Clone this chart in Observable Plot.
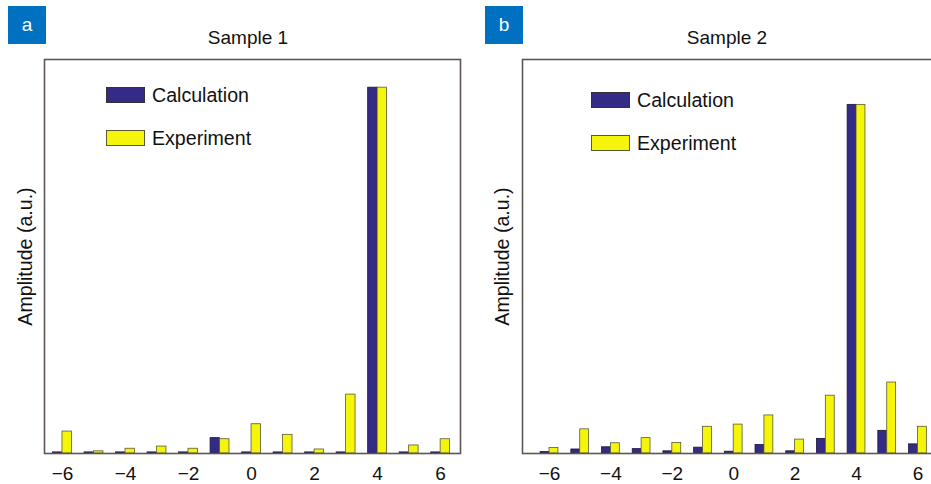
<!DOCTYPE html>
<html>
<head>
<meta charset="utf-8">
<script src="https://cdn.jsdelivr.net/npm/d3@7"></script>
<script src="https://cdn.jsdelivr.net/npm/@observablehq/plot@0.6"></script>
<style>
  html, body { margin: 0; padding: 0; background: #fff; overflow: hidden; }
  #fig { position: relative; width: 931px; height: 484px; overflow: hidden;
         font-family: "Liberation Sans", Arial, sans-serif; color: #111; }
  .abs { position: absolute; }
  .tag { width: 38px; height: 38px; background: #0070c0; color: #fff; font-size: 19px;
         display: flex; align-items: center; justify-content: center; }
  .title { width: 220px; text-align: center; font-size: 19px; line-height: 22px; }
  .sw { width: 39px; height: 16px; box-sizing: border-box; border: 1px solid #333; }
  .lt { font-size: 19.6px; line-height: 22px; }
</style>
</head>
<body>
<div id="fig"></div>
<script>
// ---- data ----
const positions = [-6, -5, -4, -3, -2, -1, 0, 1, 2, 3, 4, 5, 6];
const xTicks = [-6, -4, -2, 0, 2, 4, 6];
const sample1Calc = [0.003, 0.003, 0.003, 0.003, 0.003, 0.042, 0.003, 0.003, 0.003, 0.003, 1.0, 0.003, 0.003];
const sample1Exp  = [0.060, 0.006, 0.013, 0.019, 0.013, 0.039, 0.080, 0.051, 0.011, 0.161, 1.0, 0.022, 0.039];
const sample2Calc = [0.004, 0.011, 0.017, 0.012, 0.006, 0.016, 0.005, 0.023, 0.006, 0.040, 0.953, 0.062, 0.025];
const sample2Exp  = [0.015, 0.066, 0.028, 0.042, 0.029, 0.073, 0.079, 0.104, 0.038, 0.158, 0.953, 0.194, 0.073];
const titles = ["Sample 1", "Sample 2"];
const panelTags = ["a", "b"];
const seriesNames = ["Calculation", "Experiment"];
const yLabel = "Amplitude (a.u.)";

const calcColor = "#332b85";
const expColor = "#f5f50c";
const font = "'Liberation Sans', Arial, sans-serif";

function panel(calc, exp, opts) {
  const rows = positions.map((x, i) => ({x, calc: calc[i], exp: exp[i]}));
  const w = opts.barW;
  return Plot.plot({
    width: opts.width, height: 484,
    marginLeft: opts.ml, marginRight: opts.mr, marginTop: 59, marginBottom: 31,
    style: {fontFamily: font, fontSize: "19px", background: "transparent", color: "#111"},
    x: {domain: opts.domain, ticks: xTicks, tickFormat: d3.format("d"), tickSize: 0, tickPadding: 13, label: null},
    y: {domain: [0, 1.077], axis: null},
    marks: [
      Plot.rect(rows, {x1: d => d.x - w, x2: d => d.x, y1: 0, y2: "calc", fill: calcColor, stroke: "#1b1740", strokeWidth: 0.8}),
      Plot.rect(rows, {x1: d => d.x, x2: d => d.x + w, y1: 0, y2: "exp", fill: expColor, stroke: "#5a5a30", strokeWidth: 0.8}),
      Plot.frame({stroke: "#5e5656", strokeWidth: 1.6}),
      Plot.text([yLabel], {frameAnchor: "left", textAnchor: "middle", rotate: -90, dx: opts.ylDx, fontSize: 19.6, fill: "#111"})
    ]
  });
}

const fig = document.getElementById("fig");

function place(el, left, top) {
  el.style.position = "absolute";
  el.style.left = left + "px";
  el.style.top = top + "px";
  fig.appendChild(el);
  return el;
}

const p1 = panel(sample1Calc, sample1Exp, {width: 470, ml: 44, mr: 10, domain: [-6.57, 6.63], barW: 0.30, ylDx: -19});
place(p1, 0, 0);
const p2 = panel(sample2Calc, sample2Exp, {width: 478, ml: 52, mr: 10, domain: [-6.88, 6.67], barW: 0.29, ylDx: -20});
place(p2, 470, 0);

function div(cls, text, left, top, extra) {
  const d = document.createElement("div");
  d.className = "abs " + cls;
  if (text != null) d.textContent = text;
  d.style.left = left + "px";
  d.style.top = top + "px";
  if (extra) Object.assign(d.style, extra);
  fig.appendChild(d);
  return d;
}

// panel tags and titles
div("tag", panelTags[0], 8, 6);
div("tag", panelTags[1], 485, 6);
div("title", titles[0], 138, 27);
div("title", titles[1], 617, 27);

// legends
div("sw", null, 106, 87, {background: calcColor});
div("lt", seriesNames[0], 152, 84);
div("sw", null, 106, 130, {background: expColor, borderColor: "#5a5a30"});
div("lt", seriesNames[1], 152, 127);

div("sw", null, 591, 92, {background: calcColor});
div("lt", seriesNames[0], 637, 89);
div("sw", null, 591, 135, {background: expColor, borderColor: "#5a5a30"});
div("lt", seriesNames[1], 637, 132);
</script>
</body>
</html>
